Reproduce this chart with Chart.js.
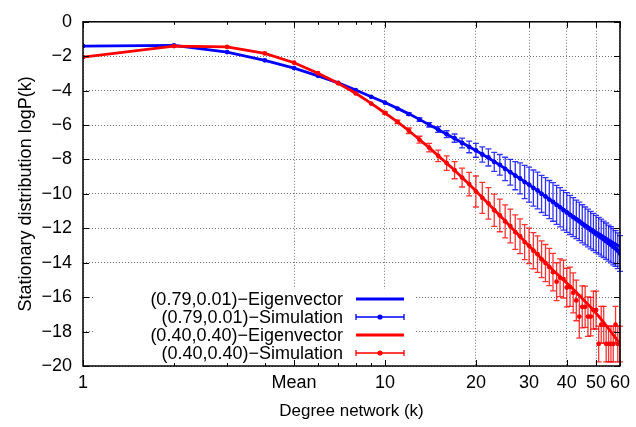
<!DOCTYPE html>
<html>
<head>
<meta charset="utf-8">
<script src="https://cdn.jsdelivr.net/npm/chart.js@4.4.0/dist/chart.umd.min.js"></script>
<style>
    html, body { margin: 0; padding: 0; background: #ffffff; }
</style>
</head>
<body>
<canvas id="degreeChart" width="636" height="427"></canvas>
<script>
// Degree k of the network (x axis, log scale)
var degrees = [1, 2, 3, 4, 5, 6, 7, 8, 9, 10, 11, 12, 13, 14, 15, 16, 17, 18, 19, 20,
    21, 22, 23, 24, 25, 26, 27, 28, 29, 30, 31, 32, 33, 34, 35, 36, 37, 38, 39, 40,
    41, 42, 43, 44, 45, 46, 47, 48, 49, 50, 51, 52, 53, 54, 55, 56, 57, 58, 59, 60];

// (0.79,0.01) eigenvector and simulation
var blueEigen = [-1.41, -1.37, -1.76, -2.24, -2.69, -3.14, -3.55, -3.96, -4.35, -4.69,
    -5.03, -5.35, -5.67, -5.98, -6.26, -6.53, -6.78, -7.03, -7.26, -7.48,
    -7.70, -7.91, -8.12, -8.33, -8.53, -8.73, -8.92, -9.11, -9.29, -9.47,
    -9.64, -9.81, -9.98, -10.14, -10.30, -10.46, -10.61, -10.76, -10.91, -11.05,
    -11.18, -11.31, -11.43, -11.55, -11.67, -11.79, -11.90, -12.01, -12.11, -12.21,
    -12.30, -12.39, -12.48, -12.57, -12.66, -12.75, -12.83, -12.91, -12.99, -13.07];
var blueSim = [-1.41, -1.37, -1.76, -2.24, -2.69, -3.14, -3.55, -3.97, -4.36, -4.70,
    -5.04, -5.36, -5.69, -5.99, -6.26, -6.53, -6.76, -7.04, -7.27, -7.47,
    -7.71, -7.88, -8.14, -8.31, -8.55, -8.74, -8.94, -9.10, -9.31, -9.46,
    -9.66, -9.80, -10.00, -10.15, -10.33, -10.47, -10.64, -10.78, -10.95, -11.08,
    -11.22, -11.35, -11.48, -11.60, -11.74, -11.86, -11.98, -12.10, -12.21, -12.33,
    -12.43, -12.54, -12.64, -12.75, -12.86, -12.96, -13.07, -13.17, -13.30, -13.46];
var blueErr = [0.02, 0.02, 0.02, 0.02, 0.02, 0.02, 0.02, 0.02, 0.02, 0.03,
    0.05, 0.07, 0.10, 0.13, 0.17, 0.20, 0.24, 0.28, 0.34, 0.40,
    0.44, 0.50, 0.55, 0.60, 0.68, 0.75, 0.82, 0.90, 0.97, 1.02,
    1.05, 1.07, 1.08, 1.10, 1.11, 1.12, 1.13, 1.14, 1.15, 1.15,
    1.14, 1.13, 1.12, 1.12, 1.11, 1.10, 1.10, 1.09, 1.08, 1.08,
    1.07, 1.07, 1.06, 1.06, 1.05, 1.05, 1.05, 1.04, 1.04, 1.04];

// (0.40,0.40) eigenvector and simulation
var redEigen = [-2.05, -1.41, -1.46, -1.84, -2.38, -2.99, -3.57, -4.15, -4.74, -5.30,
    -5.82, -6.33, -6.84, -7.31, -7.78, -8.21, -8.63, -9.05, -9.44, -9.83,
    -10.21, -10.57, -10.92, -11.26, -11.58, -11.89, -12.19, -12.48, -12.76, -13.03,
    -13.28, -13.53, -13.77, -14.00, -14.22, -14.43, -14.63, -14.82, -15.00, -15.18,
    -15.36, -15.54, -15.72, -15.90, -16.07, -16.25, -16.42, -16.59, -16.76, -16.93,
    -17.11, -17.29, -17.47, -17.65, -17.83, -18.01, -18.19, -18.37, -18.55, -18.73];
var redSim = [-2.05, -1.41, -1.46, -1.84, -2.38, -2.99, -3.57, -4.16, -4.75, -5.30,
    -5.81, -6.33, -6.85, -7.31, -7.79, -8.21, -8.62, -9.05, -9.43, -9.86,
    -10.23, -10.55, -10.95, -11.25, -11.60, -11.87, -12.22, -12.46, -12.80, -13.02,
    -13.30, -13.50, -13.80, -14.02, -14.25, -14.55, -15.10, -14.87, -14.95, -15.44,
    -15.40, -15.75, -16.19, -17.13, -16.56, -16.56, -17.13, -17.13, -16.75, -16.75,
    -18.72, -17.60, -17.60, -18.72, -18.72, -18.72, -18.72, -17.60, -18.72, -18.72];
var redErr = [0.02, 0.02, 0.02, 0.02, 0.02, 0.03, 0.03, 0.04, 0.05, 0.06,
    0.10, 0.16, 0.20, 0.25, 0.33, 0.42, 0.50, 0.55, 0.68, 0.90,
    0.90, 0.92, 0.94, 0.95, 0.96, 0.98, 1.00, 1.01, 1.02, 1.03,
    1.05, 1.06, 1.07, 1.08, 1.08, 1.09, 1.10, 1.10, 1.10, 1.12,
    1.14, 1.16, 1.18, 1.25, 1.22, 1.20, 1.15, 1.12, 1.10, 1.10,
    1.04, 1.07, 1.07, 1.04, 1.04, 1.04, 1.04, 1.07, 1.04, 1.04];

// Axis ticks
var xTickValues = [1, 5, 10, 20, 30, 40, 50, 60];
var xTickLabels = ['1', 'Mean', '10', '20', '30', '40', '50', '60'];
var xMinorTicks = [2, 3, 4, 6, 7, 8, 9];

var legendLabels = ['(0.79,0.01)\u2212Eigenvector', '(0.79,0.01)\u2212Simulation',
    '(0.40,0.40)\u2212Eigenvector', '(0.40,0.40)\u2212Simulation'];

var FONT = '"Liberation Sans", Arial, Helvetica, sans-serif';
var FONT_SIZE = 18;
var colors = {
    blue: '#0000ff',
    red: '#ff0000',
    grid: 'rgba(0, 0, 0, 0.55)'
};

function toPoints(values) {
    return values.map(function (v, i) {
        return { x: degrees[i], y: v };
    });
}

// ==========================================
// Error bars for the simulation datasets
// ==========================================
var errorBarPlugin = {
    id: 'errorBars',
    beforeDatasetDraw: function (chart, args) {
        var ds = chart.data.datasets[args.index];
        if (!ds.errors) {
            return;
        }
        var xs = chart.scales.x;
        var ys = chart.scales.y;
        var ctx = chart.ctx;
        ctx.save();
        ctx.strokeStyle = ds.borderColor;
        ctx.globalAlpha = 0.8;
        ctx.lineWidth = 1.3;
        ds.data.forEach(function (p, i) {
            var e = ds.errors[i];
            var px = xs.getPixelForValue(p.x);
            var top = ys.getPixelForValue(p.y + e);
            var bot = ys.getPixelForValue(p.y - e);
            ctx.beginPath();
            ctx.moveTo(px, top);
            ctx.lineTo(px, bot);
            if (bot - top > 2) {
                ctx.moveTo(px - 3, top);
                ctx.lineTo(px + 3, top);
                ctx.moveTo(px - 3, bot);
                ctx.lineTo(px + 3, bot);
            }
            ctx.stroke();
        });
        ctx.restore();
    }
};

// ==========================================
// Key box (gnuplot style, text left of sample)
// ==========================================
var keyPlugin = {
    id: 'keyBox',
    beforeDatasetsDraw: function (chart) {
        var ctx = chart.ctx;
        var area = chart.chartArea;
        ctx.save();
        ctx.fillStyle = '#ffffff';
        ctx.fillRect(95, 289, 319, area.bottom - 289);

        var rowY = [299, 317, 335, 353];
        var sampleColors = [colors.blue, colors.blue, colors.red, colors.red];
        ctx.font = FONT_SIZE + 'px ' + FONT;
        ctx.textAlign = 'right';
        ctx.textBaseline = 'middle';
        legendLabels.forEach(function (label, i) {
            var y = rowY[i];
            ctx.fillStyle = '#000000';
            ctx.fillText(label, 343, y + 1);
            ctx.strokeStyle = sampleColors[i];
            ctx.fillStyle = sampleColors[i];
            if (i % 2 === 0) {
                ctx.lineWidth = 3;
                ctx.beginPath();
                ctx.moveTo(356, y);
                ctx.lineTo(404, y);
                ctx.stroke();
            } else {
                ctx.lineWidth = 1.3;
                ctx.beginPath();
                ctx.moveTo(356, y);
                ctx.lineTo(404, y);
                ctx.moveTo(356, y - 3);
                ctx.lineTo(356, y + 3);
                ctx.moveTo(404, y - 3);
                ctx.lineTo(404, y + 3);
                ctx.stroke();
                ctx.beginPath();
                ctx.arc(380, y, 2.6, 0, Math.PI * 2);
                ctx.fill();
            }
        });
        ctx.restore();
    }
};

// ==========================================
// Frame and inward ticks on all four sides
// ==========================================
var framePlugin = {
    id: 'frame',
    afterDraw: function (chart) {
        var ctx = chart.ctx;
        var a = chart.chartArea;
        var xs = chart.scales.x;
        var ys = chart.scales.y;
        ctx.save();
        ctx.strokeStyle = '#000000';
        ctx.lineWidth = 1.5;
        ctx.strokeRect(a.left, a.top, a.right - a.left, a.bottom - a.top);
        ctx.lineWidth = 1;
        ctx.beginPath();
        xTickValues.concat(xMinorTicks).forEach(function (v) {
            var len = xMinorTicks.indexOf(v) >= 0 ? 3 : 6;
            var px = Math.round(xs.getPixelForValue(v)) + 0.5;
            ctx.moveTo(px, a.bottom);
            ctx.lineTo(px, a.bottom - len);
            ctx.moveTo(px, a.top);
            ctx.lineTo(px, a.top + len);
        });
        ys.ticks.forEach(function (t) {
            var py = Math.round(ys.getPixelForValue(t.value)) + 0.5;
            ctx.moveTo(a.left, py);
            ctx.lineTo(a.left + 6, py);
            ctx.moveTo(a.right, py);
            ctx.lineTo(a.right - 6, py);
        });
        ctx.stroke();
        ctx.restore();
    }
};

var ctx = document.getElementById('degreeChart');
new Chart(ctx, {
    type: 'line',
    data: {
        datasets: [{
            label: legendLabels[0],
            data: toPoints(blueEigen),
            borderColor: colors.blue,
            borderWidth: 2.8,
            pointRadius: 0,
            order: 4
        }, {
            label: legendLabels[1],
            data: toPoints(blueSim),
            errors: blueErr,
            showLine: false,
            borderColor: colors.blue,
            backgroundColor: colors.blue,
            pointRadius: 2.4,
            pointBorderWidth: 0,
            order: 3
        }, {
            label: legendLabels[2],
            data: toPoints(redEigen),
            borderColor: colors.red,
            borderWidth: 2.8,
            pointRadius: 0,
            order: 2
        }, {
            label: legendLabels[3],
            data: toPoints(redSim),
            errors: redErr,
            showLine: false,
            borderColor: colors.red,
            backgroundColor: colors.red,
            pointRadius: 2.4,
            pointBorderWidth: 0,
            order: 1
        }]
    },
    options: {
        responsive: false,
        animation: false,
        layout: {
            padding: { top: 11, right: 10, left: 0, bottom: 0 }
        },
        scales: {
            x: {
                type: 'logarithmic',
                min: 1,
                max: 60,
                afterBuildTicks: function (scale) {
                    scale.ticks = xTickValues.map(function (v) {
                        return { value: v };
                    });
                },
                afterFit: function (scale) {
                    scale.height = 61;
                },
                ticks: {
                    autoSkip: false,
                    maxRotation: 0,
                    padding: 6,
                    color: '#000000',
                    font: { family: FONT, size: FONT_SIZE },
                    callback: function (value) {
                        var i = xTickValues.indexOf(value);
                        return i >= 0 ? xTickLabels[i] : '';
                    }
                },
                grid: {
                    color: colors.grid,
                    lineWidth: 1,
                    drawTicks: false
                },
                border: { display: false, dash: [1, 2] },
                title: {
                    display: true,
                    text: 'Degree network (k)',
                    color: '#000000',
                    font: { family: FONT, size: 17 },
                    padding: { top: 0, bottom: 5 }
                }
            },
            y: {
                min: -20,
                max: 0,
                afterFit: function (scale) {
                    scale.width = 83;
                },
                ticks: {
                    stepSize: 2,
                    padding: 11,
                    color: '#000000',
                    font: { family: FONT, size: FONT_SIZE },
                    callback: function (value) {
                        return value === 0 ? '0' : '\u2212' + Math.abs(value);
                    }
                },
                grid: {
                    color: colors.grid,
                    lineWidth: 1,
                    drawTicks: false
                },
                border: { display: false, dash: [1, 2] },
                title: {
                    display: true,
                    text: 'Stationary distribution logP(k)',
                    color: '#000000',
                    font: { family: FONT, size: FONT_SIZE },
                    padding: { top: 15, bottom: 0 }
                }
            }
        },
        plugins: {
            legend: { display: false },
            tooltip: { enabled: false }
        }
    },
    plugins: [errorBarPlugin, keyPlugin, framePlugin]
});
</script>
</body>
</html>
